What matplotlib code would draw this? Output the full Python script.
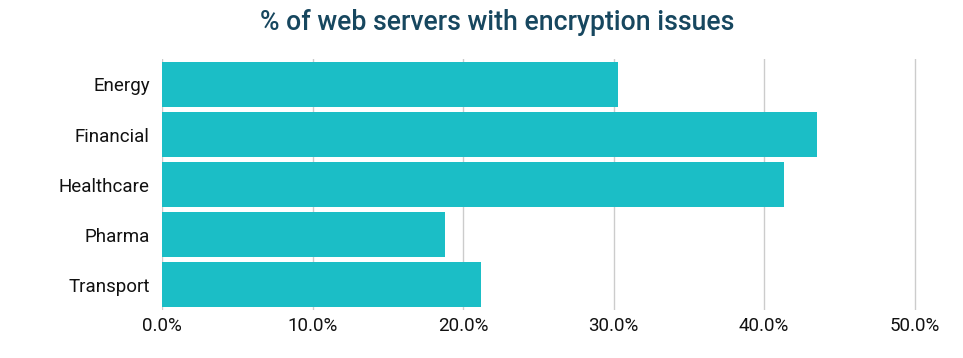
import matplotlib
matplotlib.use("Agg")
import matplotlib.pyplot as plt
from matplotlib.ticker import FuncFormatter

categories = ["Energy", "Financial", "Healthcare", "Pharma", "Transport"]
values = [30.3, 43.5, 41.3, 18.8, 21.2]
xticks = [0, 10, 20, 30, 40, 50]

plt.rcParams['font.family'] = ['Roboto', 'DejaVu Sans']

fig = plt.figure(figsize=(9.63, 3.58), dpi=100)
ax = fig.add_axes([0.1685, 0.135, 0.7845, 0.699])

ypos = list(range(len(categories)))
ax.barh(ypos, values, height=0.9, color="#1bbec6", zorder=3)
ax.set_yticks(ypos)
ax.set_yticklabels(categories)
ax.set_ylim(len(categories) - 0.5, -0.5)
ax.set_xlim(0, 50.2)
ax.set_xticks(xticks)
ax.xaxis.set_major_formatter(FuncFormatter(lambda v, p: f"{v:.1f}%"))
ax.grid(axis="x", color="#cccccc", linewidth=1, zorder=0)
for s in ax.spines.values():
    s.set_visible(False)
ax.tick_params(axis="both", length=0, labelsize=13.5, colors="#111111")
ax.tick_params(axis="y", pad=9)
ax.tick_params(axis="x", pad=5)

fig.text(0.516, 0.938, "% of web servers with encryption issues", ha="center", va="center",
         fontsize=19.2, fontweight="medium", color="#17475f")

fig.savefig("out.png", dpi=100)
